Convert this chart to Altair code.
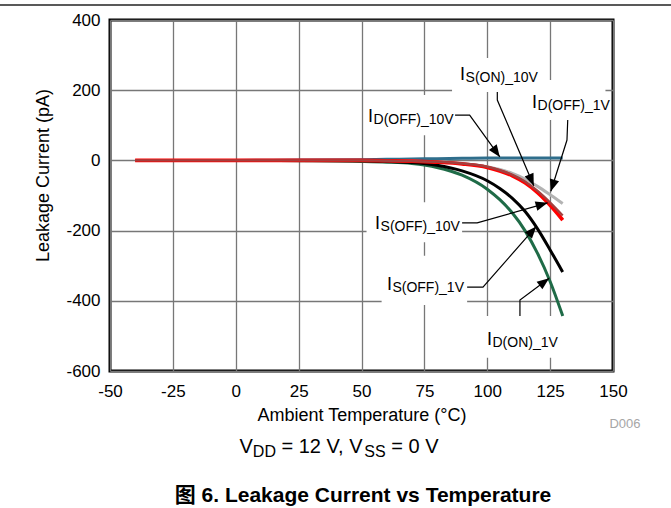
import math
import altair as alt
import pandas as pd

# ---- measured leakage currents (pA) versus ambient temperature (°C) ----
temps = [-40, -25, 0, 25, 50, 60, 70, 80, 90, 100, 105, 110, 115, 120, 125, 130]
i_d_off_10v = [0, 0, 0, 1, 2, 3, 4, 5, 6, 7, 7, 7, 7, 7, 7, 7]
i_d_on_1v = [0, 0, 0, -1, -3, -5, -9, -20, -42, -82, -112, -150, -200, -265, -345, -443]
i_s_off_1v = [0, 0, 0, 0, -1, -3, -6, -14, -30, -58, -80, -108, -145, -195, -255, -318]
i_d_off_1v = [0, 0, 0, 0, 0, -1, -2, -4, -9, -18, -26, -37, -53, -74, -98, -123]
i_s_off_10v = [0, 0, 0, 0, 0, -1, -2, -5, -10, -20, -30, -44, -64, -92, -128, -170]
i_s_on_10v = [0, 0, 0, 0, 0, -1, -2, -4, -9, -18, -28, -41, -60, -87, -120, -157]

# drawing order: later entries sit on top
series = [
    ("ID(OFF)_10V", i_d_off_10v, "#2f6e8c", 3.0),
    ("ID(ON)_1V", i_d_on_1v, "#1f6b47", 3.0),
    ("IS(OFF)_1V", i_s_off_1v, "#000000", 3.0),
    ("ID(OFF)_1V", i_d_off_1v, "#b3b3b3", 3.0),
    ("IS(OFF)_10V", i_s_off_10v, "#ff0000", 3.6),
    ("IS(ON)_10V", i_s_on_10v, "#a3403f", 2.4),
]

# ---- callout labels: "I" + subscript, anchored in data units ----
label_names = ["IS(ON)_10V", "ID(OFF)_1V", "ID(OFF)_10V", "IS(OFF)_10V", "IS(OFF)_1V", "ID(ON)_1V"]
label_sub = ["S(ON)_10V", "D(OFF)_1V", "D(OFF)_10V", "S(OFF)_10V", "S(OFF)_1V", "D(ON)_1V"]
label_t = [89.2, 117.8, 52.6, 55.4, 60.1, 99.9]
label_v = [229, 149, 109, -195, -369, -526]

# white panels behind the callouts (they break the grid lines)
box_t0 = [86, 115, 51, 52, 58, 97.5]
box_t1 = [122, 147, 87, 90, 92, 128]
box_v0 = [195, 115, 72, -233, -412, -562]
box_v1 = [292, 229, 186, -119, -272, -443]

# leader polylines, last point is the arrow tip
leader_t = [
    [104, 104, 118.5],
    [132, 131.7, 125.3],
    [87.2, 93, 105],
    [90, 96, 124],
    [92, 98.3, 119.5],
    [113, 113, 124.6],
]
leader_v = [
    [195, 172, -72],
    [115, 58, -88],
    [129, 129, 10],
    [-178, -178, -121],
    [-361, -361, -188],
    [-443, -398, -336],
]

x_ticks = [-50, -25, 0, 25, 50, 75, 100, 125, 150]
y_ticks = [-600, -400, -200, 0, 200, 400]

W, H = 503, 351
X_DOM = [-50, 150]
Y_DOM = [-600, 400]
FONT = "Liberation Sans, Arial, Noto Sans CJK SC, sans-serif"

xs = alt.Scale(domain=X_DOM, nice=False, zero=False)
ys = alt.Scale(domain=Y_DOM, nice=False, zero=False)

AX = alt.Axis(
    title="Ambient Temperature (°C)", values=x_ticks, labelExpr="'' + datum.value",
    grid=True, gridColor="#777777", gridWidth=1.3, domain=False,
    ticks=False, tickSize=0, labelPadding=12, labelFontSize=17,
    labelFont=FONT, labelColor="#000000", labelFlush=False, labelOverlap=False,
    titleFont=FONT, titleFontSize=18, titleFontWeight="normal", titleColor="#000000",
    titleX=251.5, titleY=44, titleBaseline="middle", titleAlign="center",
)
AY = alt.Axis(
    title="Leakage Current (pA)", values=y_ticks, labelExpr="'' + datum.value",
    grid=True, gridColor="#777777", gridWidth=1.3, domain=False,
    ticks=False, tickSize=0, labelPadding=10, labelFontSize=17,
    labelFont=FONT, labelColor="#000000", labelFlush=False, labelOverlap=False,
    titleFont=FONT, titleFontSize=18, titleFontWeight="normal", titleColor="#000000",
    titleX=-67, titleY=155, titleAngle=270, titleBaseline="middle", titleAlign="center",
)

# ---- tables ----
boxes = pd.DataFrame({"t0": box_t0, "t1": box_t1, "v0": box_v0, "v1": box_v1})

curve_rows = []
for name, vals, _, _ in series:
    for t, v in zip(temps, vals):
        curve_rows.append({"name": name, "T": t, "I": v})
curves = pd.DataFrame(curve_rows)

sx = W / (X_DOM[1] - X_DOM[0])
sy = H / (Y_DOM[1] - Y_DOM[0])
leader_rows, tip_rows = [], []
for name, ts, vs in zip(label_names, leader_t, leader_v):
    for k, (t, v) in enumerate(zip(ts, vs)):
        leader_rows.append({"name": name, "seq": k, "T": t, "I": v})
    dx = (ts[-1] - ts[-2]) * sx
    dy = -(vs[-1] - vs[-2]) * sy
    ang = math.degrees(math.atan2(dx, -dy)) % 360
    tip_rows.append({"name": name, "T": ts[-1], "I": vs[-1], "ang": ang})
leaders = pd.DataFrame(leader_rows)
tips = pd.DataFrame(tip_rows)

labels = pd.DataFrame({"name": label_names, "sub": label_sub, "T": label_t, "I": label_v})

# ---- layers ----
panel = alt.Chart(boxes).mark_rect(color="white", strokeWidth=0).encode(
    x=alt.X("t0:Q", scale=xs, axis=AX), x2="t1:Q",
    y=alt.Y("v0:Q", scale=ys, axis=AY), y2="v1:Q",
)

layers = [panel]
for name, _, color, sw in series:
    layers.append(
        alt.Chart(curves).transform_filter(alt.datum.name == name)
        .mark_line(color=color, strokeWidth=sw, interpolate="monotone", strokeCap="butt")
        .encode(x=alt.X("T:Q", scale=xs, axis=AX), y=alt.Y("I:Q", scale=ys, axis=AY))
    )

layers.append(
    alt.Chart(leaders).mark_line(color="black", strokeWidth=1.2).encode(
        x=alt.X("T:Q", scale=xs, axis=AX), y=alt.Y("I:Q", scale=ys, axis=AY),
        detail="name:N", order="seq:Q",
    )
)
layers.append(
    alt.Chart(tips).mark_point(
        shape="M0,0L-0.4,1L0.4,1Z", filled=True, size=576, color="black",
        opacity=1, strokeWidth=0,
    ).encode(
        x=alt.X("T:Q", scale=xs, axis=AX), y=alt.Y("I:Q", scale=ys, axis=AY),
        angle=alt.Angle("ang:Q", scale=None),
    )
)
layers.append(
    alt.Chart(labels).mark_text(
        text="I", align="left", baseline="alphabetic", fontSize=18, font=FONT, color="black"
    ).encode(x=alt.X("T:Q", scale=xs, axis=AX), y=alt.Y("I:Q", scale=ys, axis=AY))
)
layers.append(
    alt.Chart(labels).mark_text(
        align="left", baseline="alphabetic", fontSize=14, font=FONT, color="black", dx=5.5, dy=2
    ).encode(
        x=alt.X("T:Q", scale=xs, axis=AX), y=alt.Y("I:Q", scale=ys, axis=AY), text="sub:N"
    )
)

one = pd.DataFrame({"k": [0]})

# rule across the top of the page
layers.append(
    alt.Chart(one).mark_rule(color="#222222", strokeWidth=1.5).encode(
        x=alt.value(-110), x2=alt.value(561), y=alt.value(-15)
    )
)

# figure id
layers.append(
    alt.Chart(one).mark_text(
        text="D006", fontSize=13, font=FONT, color="#a6a6a6", align="center", baseline="middle"
    ).encode(x=alt.value(515), y=alt.value(404))
)

# supply condition line with subscripts
ARIAL_W = {" ": 278, "=": 584, "0": 556, "1": 556, "2": 556, "V": 667, ",": 278, "D": 722, "S": 667}


def text_width(s, size):
    return sum(ARIAL_W[c] for c in s) * size / 1000.0


cond_parts = [("V", 20, 0), ("DD", 16, 4), (" = 12 V, V", 20, 0), ("SS", 16, 4), (" = 0 V", 20, 0)]
total = sum(text_width(s, fs) for s, fs, _ in cond_parts)
xpos = 229 - total / 2
for s, fs, shift in cond_parts:
    # leading blanks are collapsed by the renderer, so advance past them instead
    body = s.lstrip(" ")
    lead = text_width(s[: len(s) - len(body)], fs)
    layers.append(
        alt.Chart(one).mark_text(
            text=body, fontSize=fs, font=FONT, color="black", align="left",
            baseline="alphabetic", dy=shift,
        ).encode(x=alt.value(xpos + lead), y=alt.value(433))
    )
    xpos += text_width(s, fs)

# figure caption
layers.append(
    alt.Chart(one).mark_text(
        text="图 6. Leakage Current vs Temperature", fontSize=21, fontWeight="bold",
        font=FONT, color="black", align="center", baseline="alphabetic",
    ).encode(x=alt.value(253), y=alt.value(482))
)

chart = alt.layer(*layers).properties(
    width=W, height=H,
    autosize=alt.AutoSizeParams(type="none"),
    padding={"left": 110, "top": 20, "right": 58, "bottom": 137},
    background="white",
).configure_view(stroke="black", strokeWidth=3)

chart.save("out.html", embed_options={"renderer": "svg", "actions": False})
